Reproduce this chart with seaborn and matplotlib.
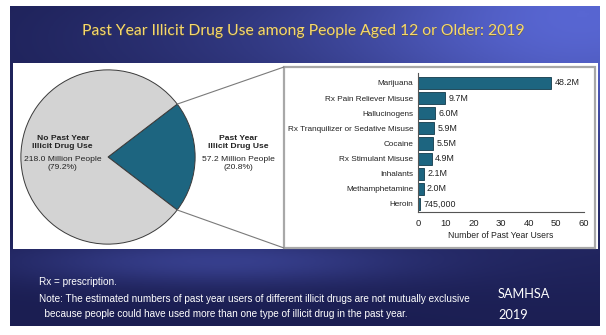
import numpy as np
import pandas as pd
import matplotlib
matplotlib.use("Agg")
import matplotlib.pyplot as plt
import seaborn as sns
from matplotlib.patches import Rectangle, ConnectionPatch

# ---- data ----
categories = ["Marijuana", "Rx Pain Reliever Misuse", "Hallucinogens",
              "Rx Tranquilizer or Sedative Misuse", "Cocaine", "Rx Stimulant Misuse",
              "Inhalants", "Methamphetamine", "Heroin"]
users_millions = [48.2, 9.7, 6.0, 5.9, 5.5, 4.9, 2.1, 2.0, 0.745]
value_labels = ["48.2M", "9.7M", "6.0M", "5.9M", "5.5M", "4.9M", "2.1M", "2.0M", "745,000"]
x_ticks = [0, 10, 20, 30, 40, 50, 60]

pie_labels = ["Past Year\nIllicit Drug Use", "No Past Year\nIllicit Drug Use"]
pie_people = [57.2, 218.0]
pie_pct = [20.8, 79.2]

title = "Past Year Illicit Drug Use among People Aged 12 or Older: 2019"
note1 = "Rx = prescription."
note2 = ("Note: The estimated numbers of past year users of different illicit drugs are not mutually exclusive\n"
         "  because people could have used more than one type of illicit drug in the past year.")
source = "SAMHSA\n2019"

sns.set_theme(style="white")
NARROW = ["Liberation Sans", "DejaVu Sans"]
TITLEF = ["Lato", "DejaVu Sans"]
plt.rcParams["font.family"] = NARROW

W, H = 606, 335
fig = plt.figure(figsize=(W / 100, H / 100), dpi=100, facecolor="white")

def fx(px):
    return px / W

def fy(py):
    return 1 - py / H

# ---- background gradient ----
bg = fig.add_axes([fx(10), fy(326), fx(590), (326 - 6) / H])
bg.set_axis_off()
gx, gy = np.meshgrid(np.linspace(0, 1, 300), np.linspace(0, 1, 160))
dark = np.array([27, 30, 82]) / 255
light = np.array([88, 102, 210]) / 255
f = 0.95 * np.exp(-(((gx - 1.0) ** 2) / 0.18 + (gy ** 2) / 0.25))
f += 0.45 * np.exp(-((gy - 0.80) ** 2) / 0.006) * np.exp(-((gx - 0.35) ** 2) / 0.12)
f += 0.25 * np.exp(-((gx - 0.45) ** 2) / 0.2) * np.exp(-((gy - 0.1) ** 2) / 0.05)
f = np.clip(f, 0, 1)[..., None]
img = dark * (1 - f) + light * f
bg.imshow(img, aspect="auto", extent=[0, 1, 1, 0])

# white panel
fig.patches.append(Rectangle((fx(13), fy(249)), fx(598) - fx(13), fy(63) - fy(249),
                             transform=fig.transFigure, facecolor="white", edgecolor="none", zorder=1))
# inner box
fig.patches.append(Rectangle((fx(284), fy(248)), fx(595) - fx(284), fy(67) - fy(248),
                             transform=fig.transFigure, facecolor="white", edgecolor="#a8a8a8",
                             linewidth=1.6, zorder=2))

# ---- title ----
TS = 11.3
fig.text(0.5 + 0.7 / W, fy(31) - 0.7 / H, title, ha="center", va="center", fontsize=TS,
         color="#6b5a1a", family=TITLEF, zorder=5, alpha=0.6)
fig.text(0.5, fy(31), title, ha="center", va="center", fontsize=TS,
         color="#f6d86c", family=TITLEF, zorder=6)

teal = "#1d6580"

# ---- pie ----
cx, cy, r = 108, 157, 88
axp = fig.add_axes([fx(cx - r), fy(cy + r), 2 * r / W, 2 * r / H], zorder=3)
half = pie_pct[0] / 100 * 360 / 2
wedges, _ = axp.pie(pie_people, colors=[teal, "#d3d3d3"], startangle=-half,
                    wedgeprops=dict(edgecolor="#3a3a3a", linewidth=0.7))
axp.set_xlim(-1.01, 1.01)
axp.set_ylim(-1.01, 1.01)
axp.set_axis_off()

PF = 6.1
axp.text(-0.52, 0.17, pie_labels[1], ha="center", va="center", fontsize=PF,
         fontweight="bold", color="#222222", linespacing=1.2)
axp.text(-0.52, -0.08, f"{pie_people[1]:.1f} Million People\n({pie_pct[1]:.1f}%)",
         ha="center", va="center", fontsize=PF, color="#222222", linespacing=1.2)
axp.text(1.50, 0.17, pie_labels[0], ha="center", va="center", fontsize=PF,
         fontweight="bold", color="#222222", linespacing=1.2)
axp.text(1.50, -0.08, f"{pie_people[0]:.1f} Million People\n({pie_pct[0]:.1f}%)",
         ha="center", va="center", fontsize=PF, color="#222222", linespacing=1.2)

# connectors from wedge edges to inner box corners
w = wedges[0]
for ang, corner in [(w.theta2, (fx(284), fy(67))), (w.theta1, (fx(284), fy(248)))]:
    p = (np.cos(np.radians(ang)), np.sin(np.radians(ang)))
    con = ConnectionPatch(xyA=p, coordsA=axp.transData, xyB=corner, coordsB=fig.transFigure,
                          color="#7a7a7a", linewidth=0.8, zorder=4)
    fig.add_artist(con)

# ---- bar chart ----
axb = fig.add_axes([fx(418), fy(212), fx(584) - fx(418), fy(73) - fy(212)], zorder=3)
df = pd.DataFrame({"drug": categories, "users": users_millions})
sns.barplot(data=df, x="users", y="drug", ax=axb, color=teal, saturation=1,
            edgecolor="#123a4a", linewidth=0.6, width=0.8)
axb.set_xlim(0, 60)
axb.set_ylim(len(categories) - 1 + 0.53, -0.66)
axb.set_xticks(x_ticks)
axb.set_xticklabels([str(t) for t in x_ticks])
axb.tick_params(axis="x", length=0, pad=5, labelsize=6.8, colors="#222222")
axb.tick_params(axis="y", length=0, pad=3.5, labelsize=5.9, colors="#222222")
axb.set_ylabel("")
axb.set_xlabel("Number of Past Year Users", fontsize=6.2, color="#222222", labelpad=2)
axb.patch.set_alpha(0)
for s in ["top", "right"]:
    axb.spines[s].set_visible(False)
for s in ["left", "bottom"]:
    axb.spines[s].set_color("#555555")
    axb.spines[s].set_linewidth(0.8)
axb.bar_label(axb.containers[0], labels=value_labels, padding=2.5, fontsize=6.4, color="#222222")

# ---- notes ----
fig.text(fx(39), fy(282), note1, ha="left", va="center", fontsize=7.2, color="white", zorder=5)
fig.text(fx(39), fy(306.5), note2, ha="left", va="center", fontsize=7.2, color="white",
         linespacing=1.65, zorder=5)
fig.text(fx(498), fy(304.5), source, ha="left", va="center", fontsize=9.2, color="white",
         family=TITLEF, linespacing=1.9, zorder=5)

fig.savefig("out.png", dpi=100, facecolor="white")
